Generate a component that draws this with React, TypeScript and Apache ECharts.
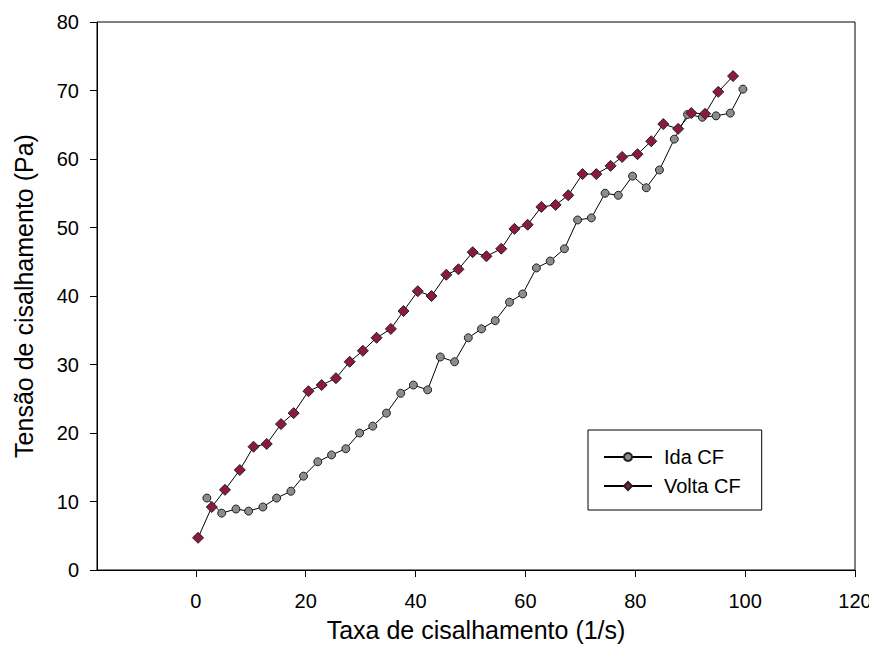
import React, { useEffect, useRef } from "react";
import * as echarts from "echarts";

const idaX = [2.0, 4.7, 7.3, 9.6, 12.2, 14.7, 17.3, 19.6, 22.2, 24.7, 27.3, 29.8, 32.2, 34.7, 37.3, 39.6, 42.2, 44.5, 47.1, 49.6, 52.0, 54.5, 57.1, 59.5, 62.0, 64.5, 67.1, 69.5, 72.0, 74.5, 76.9, 79.5, 82.0, 84.4, 87.1, 89.5, 92.2, 94.7, 97.3, 99.6];
const idaY = [10.5, 8.3, 8.9, 8.6, 9.2, 10.5, 11.5, 13.7, 15.8, 16.8, 17.7, 20.0, 21.0, 22.9, 25.8, 27.0, 26.3, 31.1, 30.4, 33.9, 35.2, 36.4, 39.1, 40.3, 44.1, 45.1, 46.9, 51.1, 51.4, 55.0, 54.7, 57.5, 55.8, 58.4, 62.9, 66.5, 66.1, 66.3, 66.7, 70.2];
const voltaX = [0.4, 2.9, 5.3, 8.0, 10.5, 12.9, 15.5, 17.8, 20.5, 22.9, 25.5, 28.0, 30.4, 32.9, 35.5, 37.8, 40.4, 42.9, 45.6, 47.8, 50.4, 52.9, 55.6, 58.0, 60.4, 62.9, 65.5, 67.8, 70.4, 72.9, 75.5, 77.6, 80.4, 82.9, 85.1, 87.8, 90.2, 92.7, 95.1, 97.8];
const voltaY = [4.7, 9.2, 11.7, 14.6, 18.0, 18.4, 21.3, 22.9, 26.1, 27.0, 28.0, 30.4, 32.0, 33.9, 35.2, 37.8, 40.7, 40.0, 43.1, 43.9, 46.4, 45.8, 46.9, 49.8, 50.4, 53.0, 53.3, 54.7, 57.8, 57.8, 59.0, 60.3, 60.7, 62.6, 65.1, 64.4, 66.7, 66.6, 69.8, 72.1];
const xTicks = [0, 20, 40, 60, 80, 100, 120];

export default function App() {
  const ref = useRef<HTMLDivElement>(null);
  useEffect(() => {
    if (!ref.current) return;
    const chart = echarts.init(ref.current, null, { renderer: "svg" });
    const sans = "'Liberation Sans', Arial, sans-serif";
    chart.setOption({
      animation: false,
      backgroundColor: "#ffffff",
      grid: {
        left: 97,
        top: 22,
        right: 22,
        bottom: 90,
        show: true,
        borderColor: "#000",
        borderWidth: 1,
        backgroundColor: "transparent",
      },
      legend: {
        orient: "vertical",
        left: 588,
        top: 430,
        padding: [17, 21, 14, 15],
        itemWidth: 48,
        itemHeight: 10,
        itemGap: 9,
        borderColor: "#000",
        borderWidth: 1,
        textStyle: { fontFamily: sans, fontSize: 20, color: "#000", padding: [0, 0, 0, 7] },
        data: ["Ida CF", "Volta CF"],
      },
      xAxis: {
        type: "value",
        min: -18,
        max: 120,
        name: "Taxa de cisalhamento (1/s)",
        nameLocation: "middle",
        nameGap: 47,
        nameTextStyle: { fontFamily: sans, fontSize: 25, color: "#000" },
        axisLine: { show: true, onZero: false, lineStyle: { color: "#000", width: 1 } },
        axisTick: { show: true, inside: false, length: 7, customValues: xTicks, lineStyle: { color: "#000" } },
        axisLabel: { customValues: xTicks, margin: 21, fontFamily: sans, fontSize: 20, color: "#000" },
        splitLine: { show: false },
      },
      yAxis: {
        type: "value",
        min: 0,
        max: 80,
        interval: 10,
        name: "Tensão de cisalhamento (Pa)",
        nameLocation: "middle",
        nameGap: 61,
        nameTextStyle: { fontFamily: sans, fontSize: 25, color: "#000" },
        axisLine: { show: true, onZero: false, lineStyle: { color: "#000", width: 1 } },
        axisTick: { show: true, inside: false, length: 7, lineStyle: { color: "#000" } },
        axisLabel: { margin: 18, fontFamily: sans, fontSize: 20, color: "#000" },
        splitLine: { show: false },
      },
      series: [
        {
          name: "Ida CF",
          type: "line",
          data: idaX.map((x, i) => [x, idaY[i]]),
          symbol: "circle",
          symbolSize: 8,
          lineStyle: { color: "#000", width: 1 },
          itemStyle: { color: "#8c8c8c", borderColor: "#222", borderWidth: 1 },
        },
        {
          name: "Volta CF",
          type: "line",
          data: voltaX.map((x, i) => [x, voltaY[i]]),
          symbol: "diamond",
          symbolSize: 11,
          lineStyle: { color: "#000", width: 1 },
          itemStyle: { color: "#8b1a3c", borderColor: "#222", borderWidth: 1 },
        },
      ],
    });
    return () => chart.dispose();
  }, []);
  return <div ref={ref} style={{ width: 877, height: 660, margin: -8 }} />;
}
